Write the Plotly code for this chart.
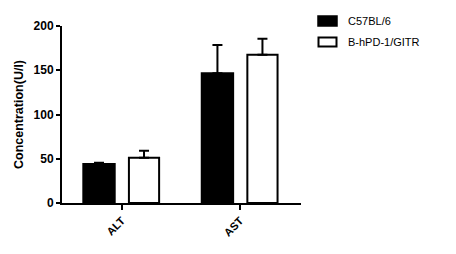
import plotly.graph_objects as go

categories = ["ALT", "AST"]
c57_mean = [44, 146.5]
c57_err = [1.5, 32]
hpd_mean = [51, 167.5]
hpd_err = [8, 18]
series_names = ["C57BL/6", "B-hPD-1/GITR"]

L, R, T, B = 62, 155, 26, 51
W, H = 456, 254
pw, ph = W - L - R, H - T - B

def px(x):
    return (x - L) / pw

def py(y):
    return (H - B - y) / ph

fig = go.Figure()
fig.add_trace(go.Bar(
    x=categories, y=c57_mean, name=series_names[0],
    marker=dict(color="black", line=dict(color="black", width=2)),
    width=0.265, offset=-0.325,
    error_y=dict(type="data", array=c57_err, arrayminus=[0, 0], symmetric=False,
                 color="black", thickness=2, width=5),
    showlegend=False,
))
fig.add_trace(go.Bar(
    x=categories, y=hpd_mean, name=series_names[1],
    marker=dict(color="white", line=dict(color="black", width=2)),
    width=0.255, offset=0.06,
    error_y=dict(type="data", array=hpd_err, arrayminus=[0, 0], symmetric=False,
                 color="black", thickness=2, width=5),
    showlegend=False,
))

# legend drawn as shapes + text
shapes = [
    dict(type="rect", xref="paper", yref="paper", x0=px(318), x1=px(337), y0=py(26), y1=py(16),
         fillcolor="black", line=dict(color="black", width=1.5)),
    dict(type="rect", xref="paper", yref="paper", x0=px(318.5), x1=px(336.5), y0=py(46.5), y1=py(37.5),
         fillcolor="white", line=dict(color="black", width=2)),
]
annotations = [
    dict(text=series_names[0], xref="paper", yref="paper", x=px(346), y=py(21), xanchor="left",
         yanchor="middle", showarrow=False, font=dict(family="Liberation Sans", size=11, color="black")),
    dict(text=series_names[1], xref="paper", yref="paper", x=px(346), y=py(42), xanchor="left",
         yanchor="middle", showarrow=False, font=dict(family="Liberation Sans", size=11, color="black")),
]

fig.update_layout(
    width=W, height=H,
    margin=dict(l=L, r=R, t=T, b=B, pad=0),
    plot_bgcolor="white", paper_bgcolor="white",
    barmode="overlay",
    shapes=shapes, annotations=annotations,
    xaxis=dict(
        range=[-0.505, 1.513], showline=True, linecolor="black", linewidth=2,
        ticks="outside", ticklen=5, tickwidth=2, tickcolor="black",
        tickangle=-45, tickfont=dict(family="Liberation Sans", size=11, color="black", weight="bold"),
        showgrid=False, zeroline=False,
    ),
    yaxis=dict(
        range=[0, 200], tickvals=[0, 50, 100, 150, 200], showline=True, linecolor="black", linewidth=2,
        ticks="outside", ticklen=4, tickwidth=2, tickcolor="black",
        tickfont=dict(family="Liberation Sans", size=12, color="black", weight="bold"),
        title=dict(text="Concentration(U/l)", font=dict(family="Liberation Sans", size=12.5, color="black", weight="bold"),
                   standoff=7),
        showgrid=False, zeroline=False,
    ),
)

fig.write_html("out.html")
